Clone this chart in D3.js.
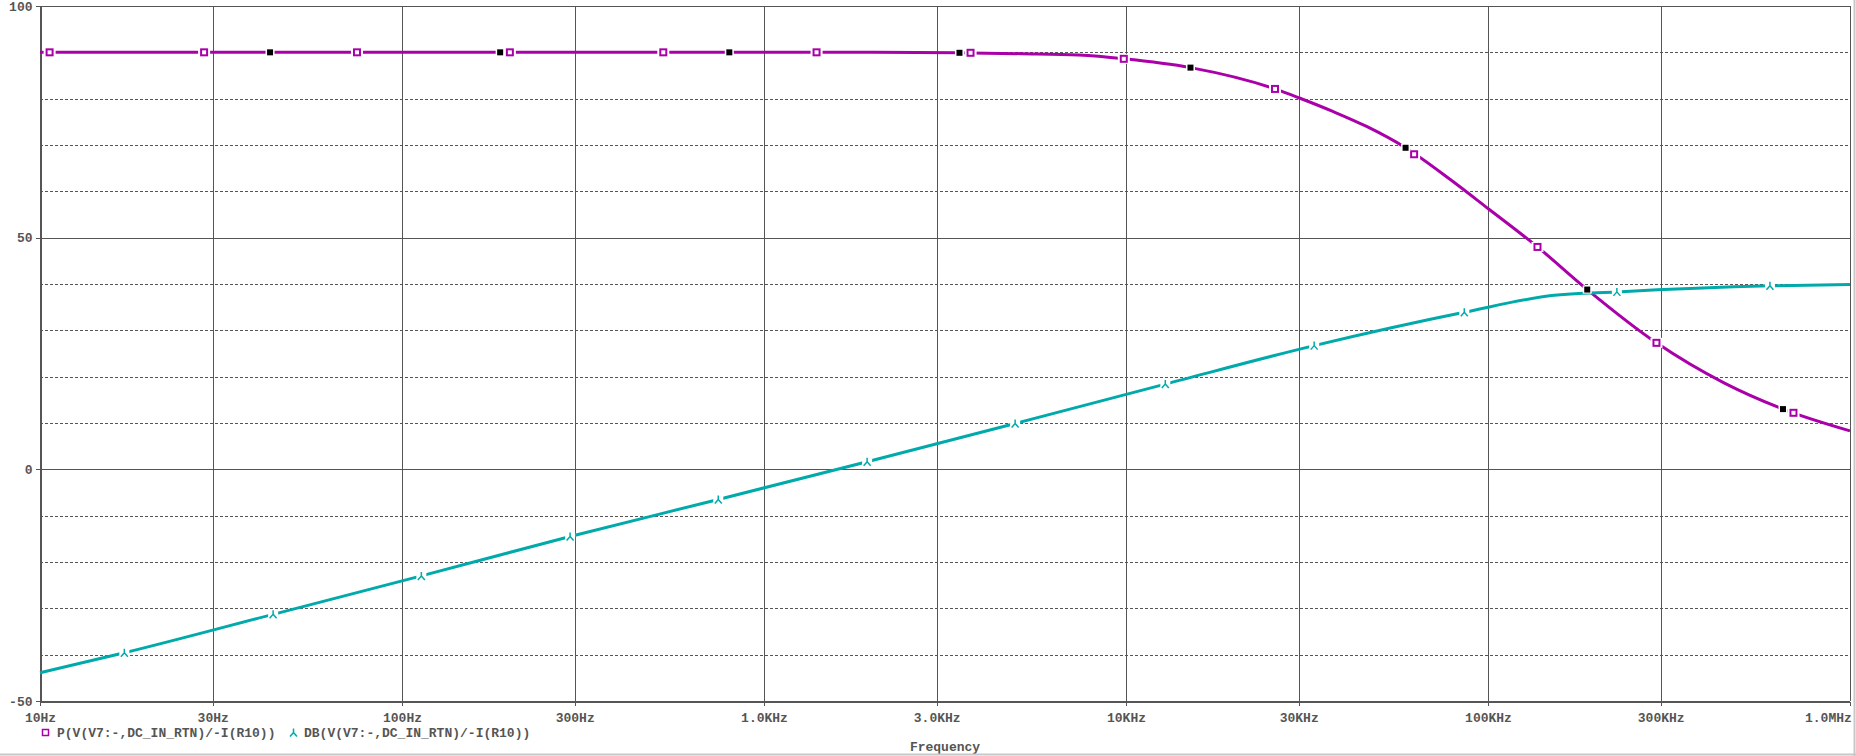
<!DOCTYPE html>
<html>
<head>
<meta charset="utf-8">
<script src="https://cdn.jsdelivr.net/npm/d3@7/dist/d3.min.js"></script>
<style>
body{margin:0;background:#fff;}
svg{display:block;}
.axis text,.lab{font-family:"Liberation Mono","DejaVu Sans Mono",monospace;font-weight:bold;font-size:13px;fill:#555;}
.axis path,.axis line{stroke:#555;shape-rendering:crispEdges;}
</style>
</head>
<body>
<div id="chart"></div>
<script>
// frequency axis
var xTicks = [10,30,100,300,1e3,3e3,1e4,3e4,1e5,3e5,1e6];
var xLabels = ['10Hz','30Hz','100Hz','300Hz','1.0KHz','3.0KHz','10KHz','30KHz','100KHz','300KHz','1.0MHz'];
var yTicks = [-50,0,50,100];
var yLabels = ['-50','0','50','100'];

// P(...) trace, degrees
var phaseFreq = [10,100,1000,2000,3467,5180,7400,9860,15070,25800,30000,37400,46200,59200,78500,100000,137000,188000,292000,450000,653000,1000000];
var phaseDeg  = [90,90,90,90,89.9,89.7,89.4,88.6,86.7,82.1,80.2,77.2,74.0,69.4,62.6,56.3,48.0,38.8,27.3,18.6,13.0,8.3];

// DB(...) trace
var dbFreq = [10,17.1,44.05,113.1,291.3,747.6,1927,4940,12840,33100,86000,150000,227000,601000,1000000];
var dbVal  = [-43.9,-39.6,-31.3,-23.0,-14.5,-6.5,1.65,9.9,18.4,26.7,33.9,37.5,38.3,39.6,39.9];

// marker symbols as placed on the traces
var phaseOpenFreq = [10.63,28.4,75.1,198.6,527,1397,3720,9860,25800,62500,137000,292000,698000];
var phaseOpenVal  = [90,90,90,90,90,90,89.9,88.6,82.1,68.0,48.0,27.3,12.2];
var phaseDotFreq = [43.2,186.7,802,3467,15070,59200,188000,653000];
var phaseDotVal  = [90,90,90,89.9,86.7,69.4,38.8,13.0];
var dbMarkFreq = [17.1,44.05,113.1,291.3,747.6,1927,4940,12840,33100,86000,227000,601000];
var dbMarkVal  = [-39.6,-31.3,-23.0,-14.5,-6.5,1.65,9.9,18.4,26.7,33.9,38.3,39.6];

var legendLabels = ['P(V(V7:-,DC_IN_RTN)/-I(R10))','DB(V(V7:-,DC_IN_RTN)/-I(R10))'];

var magenta = '#aa00aa';
var cyan = '#00aaaa';

function zip(fs,vs){
    return fs.map(function(f,i){ return {f:f, v:vs[i]}; });
}

function triMarker(g){
    g.append('path')
        .attr('d','M0,-4L0,0M0,0L-3.5,4M0,0L3.5,4')
        .attr('fill','none')
        .attr('stroke',cyan)
        .attr('stroke-width',1.5);
}

function bodeChart(id,w,h){

    var left = 40, right = 1850, top = 6, bottom = 701;

    var xScale = d3.scaleLog()
        .domain([10,1e6])
        .range([left,right]);

    var yScale = d3.scaleLinear()
        .domain([-50,100])
        .range([bottom,top]);

    var svg = d3.select(id)
        .append('svg')
        .attr('width',w)
        .attr('height',h);

    svg.append('rect').attr('width',w).attr('height',h).attr('fill','#fff');

    // dashed minor grid
    var dashed = d3.range(-50,101,10).filter(function(v){ return v % 50 != 0; });
    svg.selectAll('dgrid')
        .data(dashed)
        .enter()
        .append('line')
        .attr('x1',left).attr('x2',right)
        .attr('y1',function(d){ return Math.round(yScale(d))+0.5; })
        .attr('y2',function(d){ return Math.round(yScale(d))+0.5; })
        .attr('stroke','#555')
        .attr('stroke-dasharray','3,2')
        .attr('shape-rendering','crispEdges');

    // solid grid
    svg.selectAll('hgrid')
        .data(yTicks)
        .enter()
        .append('line')
        .attr('x1',left).attr('x2',right)
        .attr('y1',function(d){ return Math.round(yScale(d))+0.5; })
        .attr('y2',function(d){ return Math.round(yScale(d))+0.5; })
        .attr('stroke','#555')
        .attr('shape-rendering','crispEdges');

    svg.selectAll('vgrid')
        .data(xTicks)
        .enter()
        .append('line')
        .attr('x1',function(d){ return Math.round(xScale(d))+0.5; })
        .attr('x2',function(d){ return Math.round(xScale(d))+0.5; })
        .attr('y1',top).attr('y2',bottom)
        .attr('stroke','#555')
        .attr('shape-rendering','crispEdges');

    var xAxis = d3.axisBottom(xScale)
        .tickValues(xTicks)
        .tickFormat(function(d,i){ return xLabels[i]; })
        .tickSizeInner(4)
        .tickSizeOuter(0)
        .tickPadding(7);

    var yAxis = d3.axisLeft(yScale)
        .tickValues(yTicks)
        .tickFormat(function(d,i){ return yLabels[i]; })
        .tickSizeInner(5)
        .tickSizeOuter(0)
        .tickPadding(3);

    var gx = svg.append('g')
        .attr('class','axis')
        .attr('transform','translate(0,'+(bottom+0.5)+')')
        .call(xAxis);
    gx.selectAll('text')
        .filter(function(d){ return d == 1e6; })
        .attr('text-anchor','end')
        .attr('dx','0.1em');

    svg.append('g')
        .attr('class','axis')
        .attr('transform','translate('+(left+0.5)+',0)')
        .call(yAxis);

    var line = d3.line()
        .x(function(d){ return xScale(d.f); })
        .y(function(d){ return yScale(d.v); })
        .curve(d3.curveMonotoneX);

    svg.append('path')
        .datum(zip(phaseFreq,phaseDeg))
        .attr('d',line)
        .attr('fill','none')
        .attr('stroke',magenta)
        .attr('stroke-width',3);

    svg.append('path')
        .datum(zip(dbFreq,dbVal))
        .attr('d',line)
        .attr('fill','none')
        .attr('stroke',cyan)
        .attr('stroke-width',3);

    // markers, white backing cuts the trace like the original
    svg.selectAll('openmarks')
        .data(zip(phaseOpenFreq,phaseOpenVal))
        .enter()
        .append('g')
        .attr('transform',function(d){ return 'translate('+xScale(d.f)+','+yScale(d.v)+')'; })
        .each(function(){
            var g = d3.select(this);
            g.append('rect').attr('x',-6).attr('y',-5).attr('width',12).attr('height',10).attr('fill','#fff');
            g.append('rect').attr('x',-3).attr('y',-3).attr('width',6).attr('height',6)
                .attr('fill','#fff').attr('stroke',magenta).attr('stroke-width',2);
        });

    svg.selectAll('dotmarks')
        .data(zip(phaseDotFreq,phaseDotVal))
        .enter()
        .append('g')
        .attr('transform',function(d){ return 'translate('+xScale(d.f)+','+yScale(d.v)+')'; })
        .each(function(){
            var g = d3.select(this);
            g.append('rect').attr('x',-4.5).attr('y',-4).attr('width',9).attr('height',8).attr('fill','#fff');
            g.append('rect').attr('x',-3).attr('y',-3).attr('width',6).attr('height',6).attr('fill','#000');
        });

    svg.selectAll('dbmarks')
        .data(zip(dbMarkFreq,dbMarkVal))
        .enter()
        .append('g')
        .attr('transform',function(d){ return 'translate('+xScale(d.f)+','+yScale(d.v)+')'; })
        .each(function(){
            var g = d3.select(this);
            g.append('rect').attr('x',-5).attr('y',-5).attr('width',10).attr('height',10).attr('fill','#fff');
            triMarker(g);
        });

    // legend
    svg.append('rect')
        .attr('x',42.5).attr('y',729.5).attr('width',6).attr('height',6)
        .attr('fill','none').attr('stroke',magenta).attr('stroke-width',1.5);
    svg.append('text').attr('class','lab')
        .attr('x',57).attr('y',736.5)
        .text(legendLabels[0]);
    triMarker(svg.append('g').attr('transform','translate(293.5,732.5)'));
    svg.append('text').attr('class','lab')
        .attr('x',304).attr('y',736.5)
        .text(legendLabels[1]);

    svg.append('text').attr('class','lab')
        .attr('x',(left+right)/2).attr('y',750.5)
        .attr('text-anchor','middle')
        .text('Frequency');

    // window frame
    svg.append('line').attr('x1',w-1.5).attr('x2',w-1.5).attr('y1',0).attr('y2',h)
        .attr('stroke','#c8c8c8').attr('stroke-width',2);
    svg.append('line').attr('x1',0).attr('x2',w).attr('y1',h-1.5).attr('y2',h-1.5)
        .attr('stroke','#c8c8c8').attr('stroke-width',2);

    // right border of the plot
    svg.append('line')
        .attr('x1',right+0.5).attr('x2',right+0.5).attr('y1',top).attr('y2',bottom)
        .attr('stroke','#555').attr('shape-rendering','crispEdges');

    return svg;
}

bodeChart('#chart',1856,756);
</script>
</body>
</html>
